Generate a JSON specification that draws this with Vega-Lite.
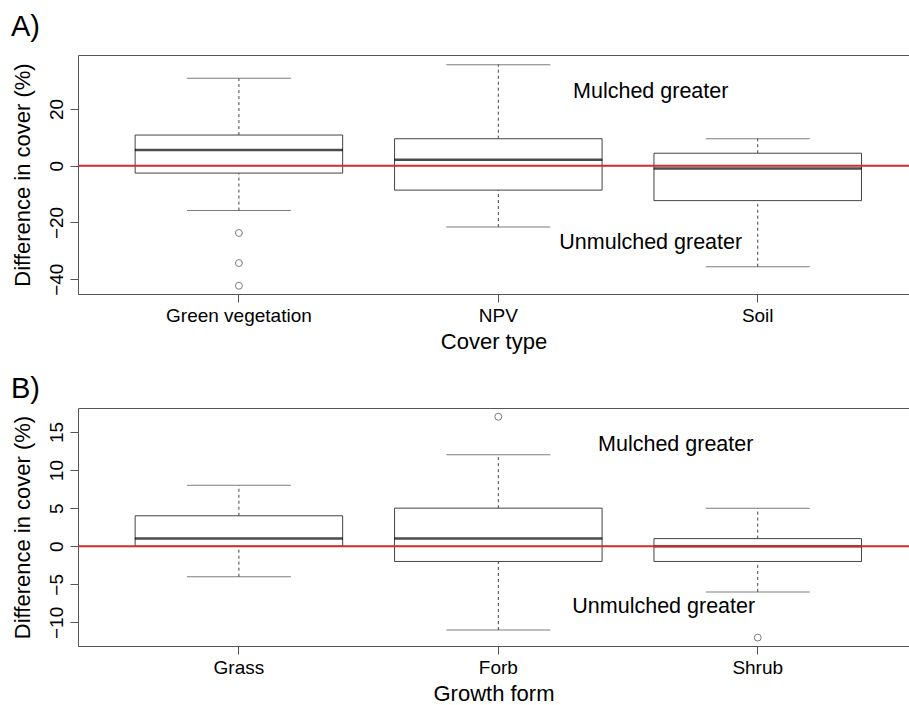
{
  "$schema": "https://vega.github.io/schema/vega-lite/v6.json",
  "background": "white",
  "padding": {"left": 11, "top": 13, "right": 0, "bottom": 0},
  "spacing": 23,
  "datasets": {
    "statsA": [
      {"cat": "Green vegetation", "lower": -15.8, "q1": -2.6, "median": 5.5, "q3": 10.8, "upper": 30.8},
      {"cat": "NPV", "lower": -21.6, "q1": -8.6, "median": 2.1, "q3": 9.5, "upper": 35.6},
      {"cat": "Soil", "lower": -35.6, "q1": -12.3, "median": -1.0, "q3": 4.4, "upper": 9.5}
    ],
    "outA": [
      {"cat": "Green vegetation", "value": -23.7},
      {"cat": "Green vegetation", "value": -34.3},
      {"cat": "Green vegetation", "value": -42.3}
    ],
    "annA": [
      {"cat": "Soil", "value": 26, "label": "Mulched greater"},
      {"cat": "Soil", "value": -27.2, "label": "Unmulched greater"}
    ],
    "statsB": [
      {"cat": "Grass", "lower": -4, "q1": 0, "median": 1, "q3": 4, "upper": 8},
      {"cat": "Forb", "lower": -11, "q1": -2, "median": 1, "q3": 5, "upper": 12},
      {"cat": "Shrub", "lower": -6, "q1": -2, "median": 0, "q3": 1, "upper": 5}
    ],
    "outB": [
      {"cat": "Forb", "value": 17},
      {"cat": "Shrub", "value": -12}
    ],
    "annB": [
      {"cat": "Shrub", "value": 13.25, "label": "Mulched greater"},
      {"cat": "Shrub", "value": -7.97, "label": "Unmulched greater"}
    ],
    "ref": [{"value": 0}]
  },
  "vconcat": [
    {
      "width": 831,
      "height": 239,
      "title": {"text": "A)", "anchor": "start", "frame": "bounds", "fontSize": 29, "font": "Liberation Sans", "fontWeight": "normal", "color": "black", "offset": -16, "baseline": "bottom"},
      "data": {"name": "statsA"},
      "resolve": {"axis": {"x": "independent"}},
      "layer": [
        {
          "mark": {"type": "rule", "stroke": "#444", "strokeWidth": 1, "strokeDash": [3, 3]},
          "encoding": {
            "x": {"field": "cat", "type": "nominal", "axis": {"orient": "top", "labels": false, "ticks": false, "tickSize": 0, "labelPadding": 0, "minExtent": 0, "maxExtent": 0, "title": null, "domain": true, "domainColor": "#555"},
              "scale": {"type": "band", "domain": ["Green vegetation", "NPV", "Soil"], "paddingInner": 0.2, "paddingOuter": 0.2017, "align": 0.546}},
            "y": {"field": "q3", "type": "quantitative", "title": "Difference in cover (%)",
              "scale": {"domain": [-45.2, 39], "nice": false, "zero": false},
              "axis": {"values": [-40, -20, 0, 20], "labelAngle": -90, "labelAlign": "center", "labelBaseline": "alphabetic", "tickSize": 8, "labelPadding": 8, "titlePadding": 13}},
            "y2": {"field": "upper"}
          }
        },
        {
          "mark": {"type": "rule", "stroke": "#444", "strokeWidth": 1, "strokeDash": [3, 3]},
          "encoding": {
            "x": {"field": "cat", "type": "nominal", "axis": null},
            "y": {"field": "lower", "type": "quantitative", "title": "Difference in cover (%)"},
            "y2": {"field": "q1"}
          }
        },
        {
          "mark": {"type": "bar", "fill": "white", "stroke": "#444", "strokeWidth": 1},
          "encoding": {
            "x": {"field": "cat", "type": "nominal", "title": "Cover type", "axis": {"orient": "bottom", "labelAngle": 0, "tickSize": 8, "labelPadding": 4, "titlePadding": 6, "domainColor": "#555"}},
            "y": {"field": "q1", "type": "quantitative", "title": "Difference in cover (%)"},
            "y2": {"field": "q3"}
          }
        },
        {
          "mark": {"type": "tick", "orient": "horizontal", "size": 104, "thickness": 1, "color": "#444"},
          "encoding": {
            "x": {"field": "cat", "type": "nominal", "axis": null},
            "y": {"field": "upper", "type": "quantitative", "title": "Difference in cover (%)"}
          }
        },
        {
          "mark": {"type": "tick", "orient": "horizontal", "size": 104, "thickness": 1, "color": "#444"},
          "encoding": {
            "x": {"field": "cat", "type": "nominal", "axis": null},
            "y": {"field": "lower", "type": "quantitative", "title": "Difference in cover (%)"}
          }
        },
        {
          "mark": {"type": "tick", "orient": "horizontal", "size": 208, "thickness": 2.5, "color": "black"},
          "encoding": {
            "x": {"field": "cat", "type": "nominal", "axis": null},
            "y": {"field": "median", "type": "quantitative", "title": "Difference in cover (%)"}
          }
        },
        {
          "data": {"name": "ref"},
          "mark": {"type": "rule", "stroke": "#d42a2a", "strokeWidth": 2},
          "encoding": {
            "y": {"field": "value", "type": "quantitative", "title": "Difference in cover (%)"}
          }
        },
        {
          "data": {"name": "outA"},
          "mark": {"type": "point", "shape": "circle", "filled": false, "stroke": "#444", "strokeWidth": 1, "size": 48},
          "encoding": {
            "x": {"field": "cat", "type": "nominal", "axis": null},
            "y": {"field": "value", "type": "quantitative", "title": "Difference in cover (%)"}
          }
        },
        {
          "data": {"name": "annA"},
          "mark": {"type": "text", "font": "Liberation Sans", "fontSize": 21.5, "color": "black", "align": "center", "baseline": "middle", "dx": -107},
          "encoding": {
            "x": {"field": "cat", "type": "nominal", "axis": null},
            "y": {"field": "value", "type": "quantitative", "title": "Difference in cover (%)"},
            "text": {"field": "label"}
          }
        }
      ]
    },
    {
      "width": 831,
      "height": 238,
      "title": {"text": "B)", "anchor": "start", "frame": "bounds", "fontSize": 29, "font": "Liberation Sans", "fontWeight": "normal", "color": "black", "offset": -25, "baseline": "bottom"},
      "data": {"name": "statsB"},
      "resolve": {"axis": {"x": "independent"}},
      "layer": [
        {
          "mark": {"type": "rule", "stroke": "#444", "strokeWidth": 1, "strokeDash": [3, 3]},
          "encoding": {
            "x": {"field": "cat", "type": "nominal", "axis": {"orient": "top", "labels": false, "ticks": false, "tickSize": 0, "labelPadding": 0, "minExtent": 0, "maxExtent": 0, "title": null, "domain": true, "domainColor": "#555"},
              "scale": {"type": "band", "domain": ["Grass", "Forb", "Shrub"], "paddingInner": 0.2, "paddingOuter": 0.2017, "align": 0.546}},
            "y": {"field": "q3", "type": "quantitative", "title": "Difference in cover (%)",
              "scale": {"domain": [-13.1, 18.15], "nice": false, "zero": false},
              "axis": {"values": [-10, -5, 0, 5, 10, 15], "labelAngle": -90, "labelAlign": "center", "labelBaseline": "alphabetic", "tickSize": 8, "labelPadding": 8, "titlePadding": 13}},
            "y2": {"field": "upper"}
          }
        },
        {
          "mark": {"type": "rule", "stroke": "#444", "strokeWidth": 1, "strokeDash": [3, 3]},
          "encoding": {
            "x": {"field": "cat", "type": "nominal", "axis": null},
            "y": {"field": "lower", "type": "quantitative", "title": "Difference in cover (%)"},
            "y2": {"field": "q1"}
          }
        },
        {
          "mark": {"type": "bar", "fill": "white", "stroke": "#444", "strokeWidth": 1},
          "encoding": {
            "x": {"field": "cat", "type": "nominal", "title": "Growth form", "axis": {"orient": "bottom", "labelAngle": 0, "tickSize": 8, "labelPadding": 4, "titlePadding": 6, "domainColor": "#555"}},
            "y": {"field": "q1", "type": "quantitative", "title": "Difference in cover (%)"},
            "y2": {"field": "q3"}
          }
        },
        {
          "mark": {"type": "tick", "orient": "horizontal", "size": 104, "thickness": 1, "color": "#444"},
          "encoding": {
            "x": {"field": "cat", "type": "nominal", "axis": null},
            "y": {"field": "upper", "type": "quantitative", "title": "Difference in cover (%)"}
          }
        },
        {
          "mark": {"type": "tick", "orient": "horizontal", "size": 104, "thickness": 1, "color": "#444"},
          "encoding": {
            "x": {"field": "cat", "type": "nominal", "axis": null},
            "y": {"field": "lower", "type": "quantitative", "title": "Difference in cover (%)"}
          }
        },
        {
          "mark": {"type": "tick", "orient": "horizontal", "size": 208, "thickness": 2.5, "color": "black"},
          "encoding": {
            "x": {"field": "cat", "type": "nominal", "axis": null},
            "y": {"field": "median", "type": "quantitative", "title": "Difference in cover (%)"}
          }
        },
        {
          "data": {"name": "ref"},
          "mark": {"type": "rule", "stroke": "#d42a2a", "strokeWidth": 2},
          "encoding": {
            "y": {"field": "value", "type": "quantitative", "title": "Difference in cover (%)"}
          }
        },
        {
          "data": {"name": "outB"},
          "mark": {"type": "point", "shape": "circle", "filled": false, "stroke": "#444", "strokeWidth": 1, "size": 48},
          "encoding": {
            "x": {"field": "cat", "type": "nominal", "axis": null},
            "y": {"field": "value", "type": "quantitative", "title": "Difference in cover (%)"}
          }
        },
        {
          "data": {"name": "annB"},
          "transform": [{"filter": "datum.value > 0"}],
          "mark": {"type": "text", "font": "Liberation Sans", "fontSize": 21.5, "color": "black", "align": "center", "baseline": "middle", "dx": -82},
          "encoding": {
            "x": {"field": "cat", "type": "nominal", "axis": null},
            "y": {"field": "value", "type": "quantitative", "title": "Difference in cover (%)"},
            "text": {"field": "label"}
          }
        },
        {
          "data": {"name": "annB"},
          "transform": [{"filter": "datum.value < 0"}],
          "mark": {"type": "text", "font": "Liberation Sans", "fontSize": 21.5, "color": "black", "align": "center", "baseline": "middle", "dx": -94},
          "encoding": {
            "x": {"field": "cat", "type": "nominal", "axis": null},
            "y": {"field": "value", "type": "quantitative", "title": "Difference in cover (%)"},
            "text": {"field": "label"}
          }
        }
      ]
    }
  ],
  "config": {
    "view": {"stroke": null},
    "axis": {
      "labelFont": "Liberation Sans",
      "titleFont": "Liberation Sans",
      "labelFontSize": 19,
      "titleFontSize": 22,
      "titleFontWeight": "normal",
      "labelColor": "black",
      "titleColor": "black",
      "domainColor": "#555",
      "tickColor": "#555",
      "grid": false
    }
  }
}
